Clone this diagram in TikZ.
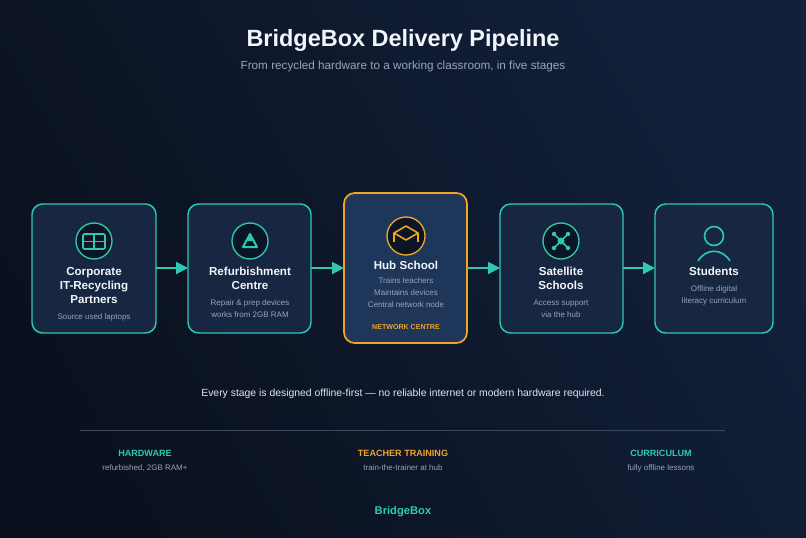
\documentclass[tikz,border=0pt]{standalone}
\usepackage{fontspec}
\setmainfont{Liberation Sans}
\usetikzlibrary{arrows.meta}
\definecolor{bgA}{HTML}{0A111E}
\definecolor{bgB}{HTML}{12203A}
\definecolor{boxf}{HTML}{172641}
\definecolor{hubf}{HTML}{1E3659}
\definecolor{teal}{HTML}{2EC9B3}
\definecolor{orng}{HTML}{F0A428}
\definecolor{gry}{HTML}{97A4BA}
\definecolor{icf}{HTML}{0C1525}
\definecolor{wht}{HTML}{F2F5FA}
\begin{document}
\begin{tikzpicture}[x=0.75pt,y=-0.75pt,
 box/.style={draw=teal,line width=1.1pt,fill=boxf,rounded corners=8pt},
 ttl/.style={font=\bfseries\fontsize{8.7}{10.5}\selectfont,text=wht,align=center},
 sub/.style={font=\fontsize{6.0}{9}\selectfont,text=gry,align=center},
 ic/.style={draw=teal,line width=1pt,fill=icf},
 arr/.style={draw=teal,line width=1.5pt,-{Triangle[length=9pt,width=9pt]}},
 lbl/.style={font=\bfseries\fontsize{6.8}{8}\selectfont},
]
\shade[left color=bgA,right color=bgB,shading angle=120] (0,0) rectangle (806,537);
\useasboundingbox (0,0) rectangle (806,537);
\node[font=\bfseries\fontsize{17.6}{20}\selectfont,text=wht] (title) at (403,40) {BridgeBox Delivery Pipeline};
\node[font=\fontsize{8.8}{11}\selectfont,text=gry] (subt) at (403,66) {From recycled hardware to a working classroom, in five stages};
% boxes
\draw[box] (32,204) rectangle (156,333);
\draw[box] (188,204) rectangle (311,333);
\draw[draw=orng,line width=1.3pt,fill=hubf,rounded corners=8pt] (344,193) rectangle (467,343);
\draw[box] (500,204) rectangle (623,333);
\draw[box] (655,204) rectangle (773,333);
\coordinate (b1e) at (156,268); \coordinate (b2w) at (188,268);
\coordinate (b2e) at (311,268); \coordinate (b3w) at (344,268);
\coordinate (b3e) at (467,268); \coordinate (b4w) at (500,268);
\coordinate (b4e) at (623,268); \coordinate (b5w) at (655,268);
\draw[arr] (b1e) -- (b2w);
\draw[arr] (b2e) -- (b3w);
\draw[arr] (b3e) -- (b4w);
\draw[arr] (b4e) -- (b5w);
% icons
\draw[ic] (94,241) circle (18);
\draw[teal,line width=1.2pt,rounded corners=1pt] (83,234) rectangle (105,249);
\draw[teal,line width=1.2pt] (94,234) -- (94,249) (83,241.5) -- (105,241.5);
\draw[ic] (250,241) circle (18);
\draw[teal,line width=1.5pt,line join=round] (250,234) -- (257,247) -- (243,247) -- cycle;
\fill[teal] (250,235) -- (253.5,241) -- (246.5,241) -- cycle;
\draw[draw=orng,line width=1pt,fill=icf] (406,236) circle (19);
\draw[orng,line width=1.2pt,line join=round] (394,233) -- (406,226) -- (418,233) -- (406,240) -- cycle;
\draw[orng,line width=1.2pt] (394,233) -- (394,242) (418,233) -- (418,242);
\draw[ic] (561,241) circle (18);
\draw[teal,line width=1.2pt] (554,234) -- (568,248) (568,234) -- (554,248);
\fill[teal] (561,241) circle (3.5) (554,234) circle (2.2) (568,234) circle (2.2) (554,248) circle (2.2) (568,248) circle (2.2);
\draw[teal,line width=1.2pt] (714,236) circle (9.5);
\draw[teal,line width=1.2pt] (698,261) .. controls (706,248) and (722,248) .. (730,261);
% texts
\node[ttl] (t1) at (94,285) {Corporate\\IT-Recycling\\Partners};
\node[sub] (s1) at (94,317) {Source used laptops};
\node[ttl] (t2) at (250,278) {Refurbishment\\Centre};
\node[sub] (s2) at (250,309) {Repair \& prep devices\\works from 2GB RAM};
\node[font=\bfseries\fontsize{8.7}{11}\selectfont,text=wht] (t3) at (406,265) {Hub School};
\node[sub] (s3) at (406,293) {Trains teachers\\Maintains devices\\Central network node};
\node[text=orng,font=\bfseries\fontsize{5.3}{7}\selectfont] (n3) at (406,327) {NETWORK CENTRE};
\node[ttl] (t4) at (561,278) {Satellite\\Schools};
\node[sub] (s4) at (561,309) {Access support\\via the hub};
\node[ttl] (t5) at (714,271) {Students};
\node[sub] (s5) at (714,295) {Offline digital\\literacy curriculum};
\node[font=\fontsize{7.8}{10}\selectfont,text=wht!80!gry] (tag) at (403,394) {Every stage is designed offline-first — no reliable internet or modern hardware required.};
\draw[gry!30!bgB,line width=0.6pt] (80,430) -- (725,430);
\node[lbl,text=teal] (h1) at (145,453) {HARDWARE};
\node[sub] (h1s) at (145,468) {refurbished, 2GB RAM+};
\node[lbl,text=orng] (h2) at (403,453) {TEACHER TRAINING};
\node[sub] (h2s) at (403,468) {train-the-trainer at hub};
\node[lbl,text=teal] (h3) at (661,453) {CURRICULUM};
\node[sub] (h3s) at (661,468) {fully offline lessons};
\node[font=\bfseries\fontsize{8.4}{10}\selectfont,text=teal] (brand) at (403,512) {BridgeBox};
\end{tikzpicture}
\end{document}
